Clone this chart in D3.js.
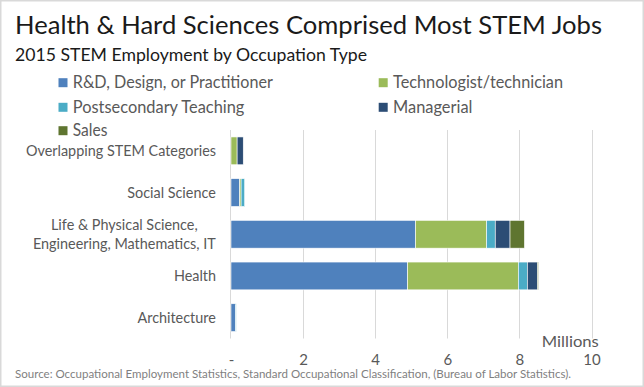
<!DOCTYPE html>
<html>
<head>
<meta charset="utf-8">
<script src="https://cdn.jsdelivr.net/npm/d3@7/dist/d3.min.js"></script>
<style>
  html, body { margin: 0; padding: 0; background: #fff; }
  svg { display: block; font-family: Lato, "Open Sans", sans-serif; }
</style>
</head>
<body>
<svg id="chart" width="644" height="387"></svg>
<script>
// ---- data ----
const categories = ["Overlapping STEM Categories", "Social Science", "Life & Physical Science, Engineering, Mathematics, IT", "Health", "Architecture"];
const categoryLines = [["Overlapping STEM Categories"], ["Social Science"], ["Life & Physical Science,", "Engineering, Mathematics, IT"], ["Health"], ["Architecture"]];
const seriesNames = ["R&D, Design, or Practitioner", "Technologist/technician", "Postsecondary Teaching", "Managerial", "Sales"];
const rdDesign      = [0.00, 0.24, 5.12, 4.90, 0.13];
const technologist  = [0.17, 0.04, 1.97, 3.07, 0.00];
const postsecondary = [0.00, 0.10, 0.24, 0.25, 0.015];
const managerial    = [0.17, 0.00, 0.41, 0.28, 0.00];
const sales         = [0.00, 0.00, 0.40, 0.03, 0.00];
const tickValues = [0, 2, 4, 6, 8, 10];
const tickLabels = ["-", "2", "4", "6", "8", "10"];
const colors = ["#4F81BD", "#9BBB59", "#4BACC6", "#2C4D75", "#5F7530"];

// ---- build ----
const seriesValues = [rdDesign, technologist, postsecondary, managerial, sales];
const table = categories.map((c, i) => {
  const row = { category: c };
  seriesNames.forEach((s, j) => row[s] = seriesValues[j][i]);
  return row;
});
const stacked = d3.stack().keys(seriesNames)(table);

const svg = d3.select("#chart");
const W = 644, H = 387;

// outer border
svg.append("rect").attr("x", 0.75).attr("y", 0.75).attr("width", W - 1.5).attr("height", H - 1.5)
  .attr("fill", "#fff").attr("stroke", "#d9d9d9").attr("stroke-width", 1.5);

const x = d3.scaleLinear().domain([0, 10]).range([231, 591.5]);
const y = d3.scaleBand().domain(categories).range([130, 338.5]).paddingInner(1/3).paddingOuter(1/6);

// gridlines
svg.append("g").selectAll("line").data(tickValues.slice(1)).join("line")
  .attr("x1", d => Math.round(x(d)) + 0.5).attr("x2", d => Math.round(x(d)) + 0.5)
  .attr("y1", 130).attr("y2", 338.5)
  .attr("stroke", "#d9d9d9").attr("stroke-width", 1);
// vertical axis line
svg.append("line").attr("x1", 230.5).attr("x2", 230.5).attr("y1", 130).attr("y2", 338.5)
  .attr("stroke", "#d9d9d9").attr("stroke-width", 1);

// bars
svg.append("g").selectAll("g").data(stacked).join("g")
  .attr("fill", (d, i) => colors[i])
  .selectAll("rect").data(d => d).join("rect")
  .attr("x", d => x(d[0]))
  .attr("width", d => Math.max(0, x(d[1]) - x(d[0])))
  .attr("y", d => y(d.data.category))
  .attr("height", y.bandwidth())
  .attr("stroke", "#ffffff").attr("stroke-width", 0.6)
  .attr("stroke-opacity", d => (d[1] - d[0]) > 0 ? 1 : 0);

// x axis ticks
const xAxis = d3.axisBottom(x).tickValues(tickValues).tickFormat((d, i) => tickLabels[i]).tickSize(0);
const gx = svg.append("g").attr("transform", "translate(0,360)").call(xAxis);
gx.select(".domain").remove();
gx.selectAll("text").attr("fill", "#595959").attr("font-size", 15).attr("font-family", "Lato, sans-serif").attr("dy", "0.35em").attr("y", 0);

// category labels
const labels = svg.append("g");
categories.forEach((c, i) => {
  const lines = categoryLines[i];
  const cy = y(c) + y.bandwidth() / 2;
  const lh = 19.3;
  const t = labels.append("text")
    .attr("fill", "#595959").attr("font-size", 14.4)
    .attr("text-anchor", "middle");
  lines.forEach((ln, k) => {
    t.append("tspan").attr("x", 0).attr("y", cy + (k - (lines.length - 1) / 2) * lh).attr("dy", "0.35em").text(ln);
  });
  const bw = t.node().getBBox().width;
  t.selectAll("tspan").attr("x", 216 - bw / 2);
});

// legend
const legendPos = [[58.5, 82.7], [378.7, 82.7], [58.5, 107.3], [378.7, 107.3], [58.5, 130.7]];
const legendW = [200, 170, 171.6, 79.4, 34.6];
const lg = svg.append("g");
seriesNames.forEach((s, i) => {
  const [lx, ly] = legendPos[i];
  lg.append("rect").attr("x", lx).attr("y", ly - 4.5).attr("width", 9).attr("height", 9).attr("fill", colors[i]);
  lg.append("text").attr("x", lx + 14.3).attr("y", ly).attr("dy", "0.35em")
    .attr("fill", "#595959").attr("font-size", 16.5)
    .attr("textLength", legendW[i]).attr("lengthAdjust", "spacingAndGlyphs")
    .text(s);
});

// titles
svg.append("text").attr("x", 15).attr("y", 34.3).attr("font-size", 25.5).attr("fill", "#1a1a1a")
  .attr("textLength", 587).attr("lengthAdjust", "spacingAndGlyphs")
  .text("Health & Hard Sciences Comprised Most STEM Jobs");
svg.append("text").attr("x", 15).attr("y", 61).attr("font-size", 18).attr("fill", "#1a1a1a")
  .attr("textLength", 352).attr("lengthAdjust", "spacingAndGlyphs")
  .text("2015 STEM Employment by Occupation Type");

// units
svg.append("text").attr("x", 570.3).attr("y", 342).attr("dy", "0.35em").attr("text-anchor", "middle")
  .attr("font-size", 15.5).attr("fill", "#595959")
  .attr("textLength", 57).attr("lengthAdjust", "spacingAndGlyphs").text("Millions");

// source
svg.append("text").attr("x", 15).attr("y", 374).attr("dy", "0.35em").attr("font-size", 11).attr("fill", "#7f7f7f")
  .attr("textLength", 556).attr("lengthAdjust", "spacingAndGlyphs")
  .text("Source: Occupational Employment Statistics, Standard Occupational Classification,  (Bureau of Labor Statistics).");
</script>
</body>
</html>
